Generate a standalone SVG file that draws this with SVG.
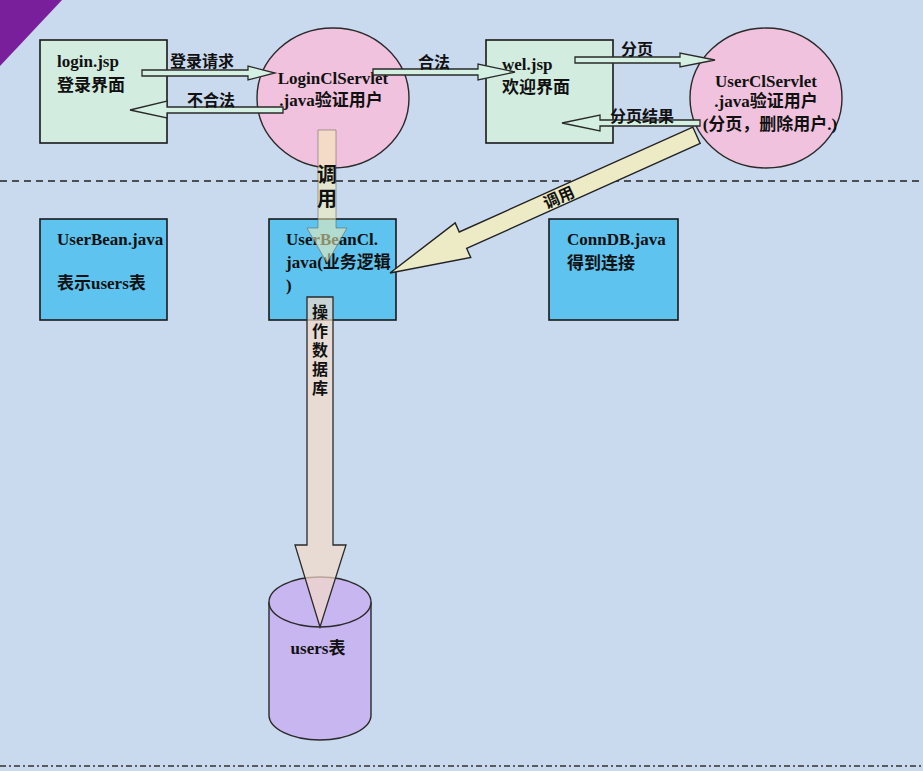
<svg xmlns="http://www.w3.org/2000/svg" width="923" height="771" viewBox="0 0 923 771">
<style>
.t{font-family:"Liberation Serif","Noto Sans CJK SC",serif;font-weight:bold;font-size:17px;fill:#111}
.c{font-family:"Noto Sans CJK SC","Liberation Sans",sans-serif;font-weight:bold;fill:#111}
.v{writing-mode:vertical-rl;font-family:"Noto Sans CJK SC","Liberation Sans",sans-serif;font-weight:bold;fill:#111}
.jsp{fill:#d2ecdf;stroke:#1a1a1a;stroke-width:1.6}
.jav{fill:#5ec3ef;stroke:#1a1a1a;stroke-width:1.6}
.srv{fill:#f0c2dd;stroke:#2a2a2a;stroke-width:1.4}
.sm{fill:#d4f0e2;stroke:#2a2a2a;stroke-width:1.3}
</style>
<rect width="923" height="771" fill="#c9d9ee"/>
<polygon points="0,0 62,0 0,66" fill="#7a1f9c"/>
<line x1="0" y1="181" x2="923" y2="181" stroke="#222" stroke-width="1.4" stroke-dasharray="7,5"/>
<line x1="0" y1="766" x2="923" y2="766" stroke="#333" stroke-width="1.4" stroke-dasharray="6,3,2,3"/>

<g id="login-jsp"><rect class="jsp" x="40" y="40" width="127" height="103"/><text class="t" x="57" y="67">login.jsp</text><text class="t" x="57" y="91">登录界面</text></g>
<g id="wel-jsp"><rect class="jsp" x="486" y="40" width="127" height="103"/><text class="t" x="502" y="70">wel.jsp</text><text class="t" x="502" y="93">欢迎界面</text></g>
<g id="LoginClServlet"><ellipse class="srv" cx="333" cy="98" rx="76" ry="70"/><text class="t" x="333" y="84" text-anchor="middle">LoginClServlet</text><text class="t" x="331" y="106" text-anchor="middle">.java验证用户</text></g>
<g id="UserClServlet"><ellipse class="srv" cx="766" cy="98" rx="76" ry="70"/><text class="t" x="766" y="87" text-anchor="middle">UserClServlet</text><text class="t" x="766" y="107" text-anchor="middle">.java验证用户</text><text class="t" x="770" y="130" text-anchor="middle">(分页，删除用户.)</text></g>
<g id="UserBean"><rect class="jav" x="40" y="219" width="127" height="101"/><text class="t" x="57" y="245">UserBean.java</text><text class="t" x="57" y="289">表示users表</text></g>
<g id="UserBeanCl"><rect class="jav" x="269" y="219" width="127" height="101"/><text class="t" x="286" y="245">UserBeanCl.</text><text class="t" x="286" y="268">java(业务逻辑</text><text class="t" x="286" y="291">)</text></g>
<g id="ConnDB"><rect class="jav" x="549" y="219" width="129" height="101"/><text class="t" x="567" y="245">ConnDB.java</text><text class="t" x="567" y="269">得到连接</text></g>
<g id="users-table"><path d="M269,602 L269,715 A51,25 0 0 0 371,715 L371,602" fill="#c8b6f0" stroke="#2a2a2a" stroke-width="1.4"/><ellipse cx="320" cy="602" rx="51" ry="25" fill="#c8b6f0" stroke="#2a2a2a" stroke-width="1.4"/><text class="t" x="318" y="654" text-anchor="middle" font-size="21">users表</text></g>

<g id="connectors">
<path class="sm" d="M142,70 L248,70 L248,66 L275,73 L248,80 L248,76 L142,76 Z"/>
<text class="c" x="170" y="67" font-size="16">登录请求</text>
<path class="sm" d="M283,107 L167,107 L167,101 L130,110 L167,118 L167,113 L283,113 Z"/>
<text class="c" x="187" y="106" font-size="16">不合法</text>
<path class="sm" d="M373,69 L478,69 L478,64 L515,72 L478,80 L478,75 L373,75 Z"/>
<text class="c" x="418" y="68" font-size="16">合法</text>
<path class="sm" d="M575,57 L680,57 L680,53 L715,60 L680,67 L680,63 L575,63 Z"/>
<text class="c" x="621" y="55" font-size="16">分页</text>
<path class="sm" d="M700,120 L600,120 L600,115 L562,123 L600,131 L600,126 L700,126 Z"/>
<text class="c" x="610" y="122" font-size="16">分页结果</text>
<g transform="translate(390,273) rotate(-24.2)">
<path d="M0,0 L80,-19 L80,-9 L336,-9 L336,9 L80,9 L80,19 Z" fill="#ecebc6" stroke="#222" stroke-width="1.4"/>
<text class="c" x="185" y="6" font-size="16" text-anchor="middle">调用</text>
</g>
<path d="M318,130 L336,130 L336,228 L347,228 L327,263 L307,228 L318,228 Z" fill="#f6f0b4" fill-opacity="0.55" stroke="#555" stroke-opacity="0.5" stroke-width="1"/>
<text class="v" x="327" y="164" font-size="20" letter-spacing="4">调用</text>
<path d="M307,297 L333,297 L333,545 L346,545 L320,627 L295,545 L307,545 Z" fill="#f4dcc8" fill-opacity="0.7" stroke="#2a2a2a" stroke-width="1.3"/>
<text class="v" x="320" y="304" font-size="16" letter-spacing="3">操作数据库</text>
</g>
</svg>
